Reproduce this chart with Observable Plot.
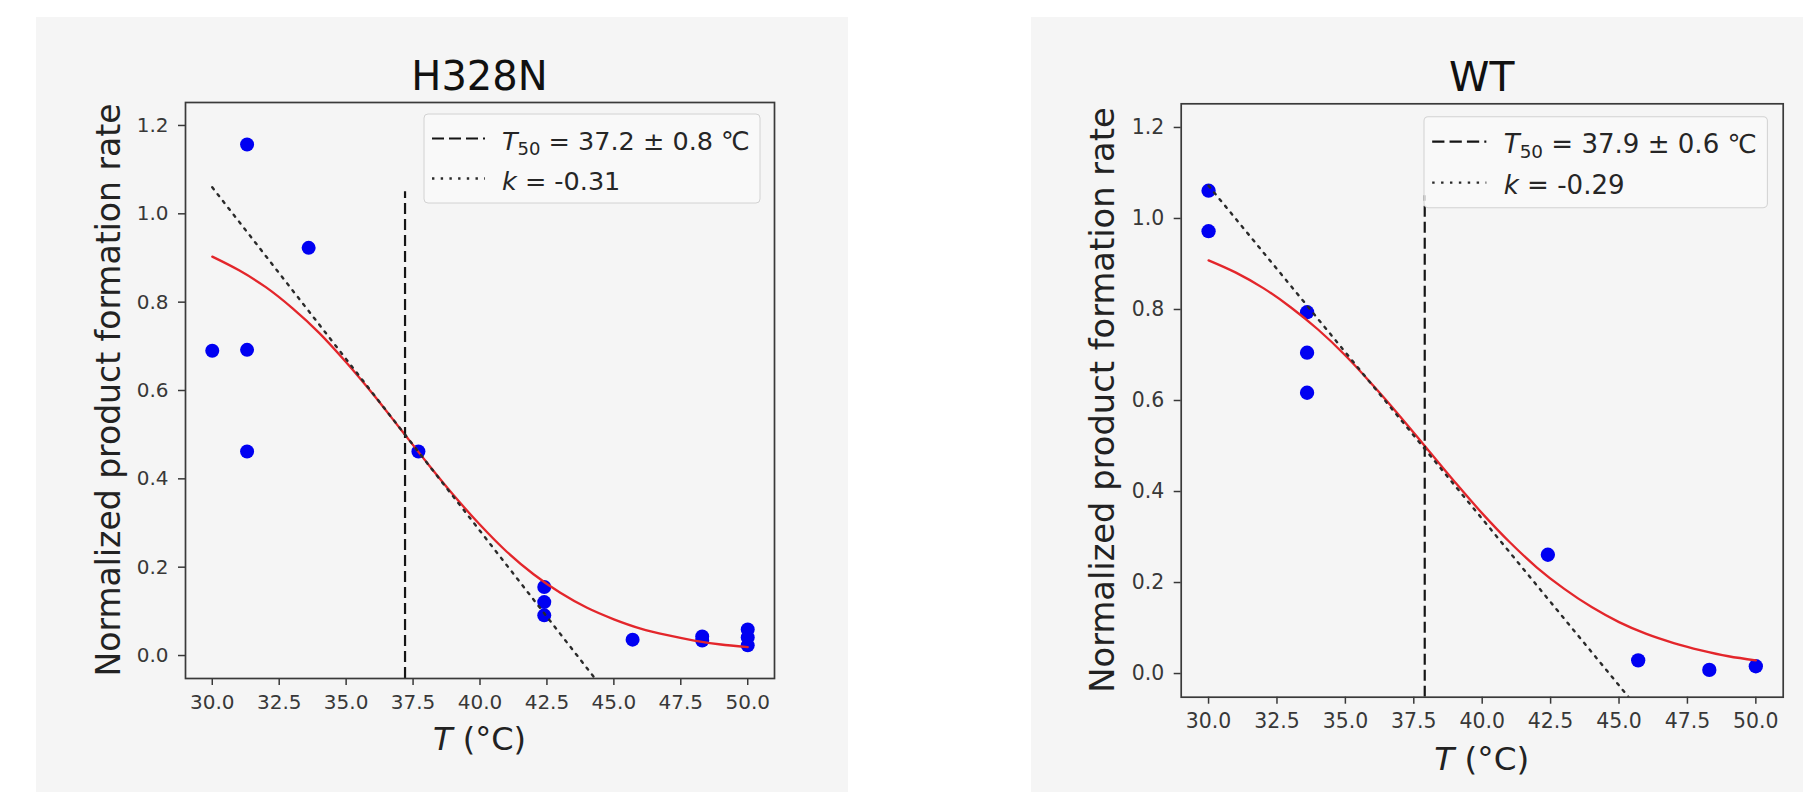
<!DOCTYPE html>
<html>
<head>
<meta charset="utf-8">
<script src="https://cdn.jsdelivr.net/npm/d3@7"></script>
<script src="https://cdn.jsdelivr.net/npm/@observablehq/plot@0.6"></script>
<style>
  html, body { margin: 0; padding: 0; background: #ffffff; width: 1803px; height: 792px; overflow: hidden; }
  .panel { position: absolute; top: 17px; }
  #left { left: 36px; }
  #right { left: 1031px; }
</style>
</head>
<body>
<div id="left" class="panel"></div>
<div id="right" class="panel"></div>
<script>
// ---------------- data ----------------
const xTicks = [30, 32.5, 35, 37.5, 40, 42.5, 45, 47.5, 50];
const yTicks = [0, 0.2, 0.4, 0.6, 0.8, 1.0, 1.2];
const xDomain = [29, 51];
const yDomain = [-0.052, 1.252];

const titles = ["H328N", "WT"];
const yLabel = "Normalized product formation rate";

// H328N measured points
const h328nTemps = [30, 31.3, 31.3, 31.3, 33.6, 37.7, 42.4, 42.4, 42.4, 45.7, 48.3, 48.3, 50, 50, 50];
const h328nRates = [0.69, 1.157, 0.692, 0.462, 0.923, 0.462, 0.155, 0.121, 0.091, 0.036, 0.043, 0.034, 0.059, 0.041, 0.023];

// WT measured points
const wtTemps = [30, 30, 33.6, 33.6, 33.6, 42.4, 45.7, 48.3, 50];
const wtRates = [1.061, 0.972, 0.794, 0.705, 0.617, 0.261, 0.029, 0.008, 0.016];

// red fitted curves, read at each degree
const fitTemps = [30, 31, 32, 33, 34, 35, 36, 37, 38, 39, 40, 41, 42, 43, 44, 45, 46, 47, 48, 49, 50];
const h328nFit = [0.903, 0.872, 0.834, 0.786, 0.730, 0.664, 0.592, 0.515, 0.438, 0.364, 0.296, 0.235, 0.184, 0.142, 0.108, 0.082, 0.061, 0.046, 0.034, 0.025, 0.019];
const wtFit    = [0.908, 0.881, 0.847, 0.805, 0.756, 0.699, 0.634, 0.565, 0.493, 0.421, 0.352, 0.289, 0.233, 0.186, 0.146, 0.113, 0.087, 0.067, 0.051, 0.038, 0.029];

// T50 (dashed vertical) and slope tangent (dotted)
const t50Values = [37.2, 37.9];
const t50Errors = [0.8, 0.6];
const t50LineTop = 1.05;
const kValues = ["-0.31", "-0.29"];
const h328nTangentTemps = [30, 44.4];
const h328nTangent = [1.06, -0.06];
const wtTangentTemps = [30, 45.6];
const wtTangent = [1.072, -0.07];

// ---------------- drawing ----------------
const BG = "#f5f5f5";
const FONT = "'DejaVu Sans', sans-serif";

function drawPanel(target, cfg) {
  const {temps, rates, fit, t50, t50Err, tanTemps, tanVals, title, kText, W, H, m, s, legendPos} = cfg;
  const pts = temps.map((t, i) => ({t, v: rates[i]}));
  const fitPts = fitTemps.map((t, i) => ({t, v: fit[i]}));
  const tanPts = tanTemps.map((t, i) => ({t, v: tanVals[i]}));

  const plot = Plot.plot({
    width: W, height: H,
    marginTop: m.top, marginRight: m.right, marginBottom: m.bottom, marginLeft: m.left,
    style: {background: BG, fontFamily: FONT, overflow: "visible"},
    x: {domain: xDomain},
    y: {domain: yDomain},
    marks: [
      Plot.dot(pts, {x: "t", y: "v", r: 7 * s, fill: "#0000f2", stroke: "none"}),
      Plot.line(fitPts, {x: "t", y: "v", stroke: "#e3262b", strokeWidth: 2.3, curve: "catmull-rom"}),
      Plot.ruleX([t50], {x: d => d, y1: () => yDomain[0], y2: () => t50LineTop, stroke: "#151515", strokeWidth: 2.2, strokeDasharray: "11,5", clip: true}),
      Plot.line(tanPts, {x: "t", y: "v", stroke: "#2a2a2a", strokeWidth: 2.4, strokeDasharray: "2.4,6.3", clip: true}),
      Plot.axisX({ticks: xTicks, tickFormat: d3.format(".1f"), tickSize: 7, tickPadding: 9.5, fontSize: 20 * s, label: null, color: "#383838", strokeWidth: 1.5}),
      Plot.axisY({ticks: yTicks, tickFormat: d3.format(".1f"), tickSize: 7, tickPadding: 10, fontSize: 20 * s, label: null, color: "#383838", strokeWidth: 1.5}),
      Plot.frame({stroke: "#3a3a3a", strokeWidth: 1.7})
    ]
  });

  const svg = d3.select(plot);
  const fx0 = m.left, fx1 = W - m.right, fy0 = m.top, fy1 = H - m.bottom;
  const cx = (fx0 + fx1) / 2, cy = (fy0 + fy1) / 2;

  // title
  svg.append("text")
    .attr("x", cx).attr("y", fy0 - 12 * s)
    .attr("text-anchor", "middle")
    .attr("font-family", FONT).attr("font-size", 40 * s).attr("fill", "#111")
    .text(title);

  // y label
  svg.append("text")
    .attr("transform", `translate(${fx0 - 65 * s},${cy}) rotate(-90)`)
    .attr("text-anchor", "middle")
    .attr("font-family", FONT).attr("font-size", 33 * s).attr("fill", "#222")
    .text(yLabel);

  // x label
  const xl = svg.append("text")
    .attr("x", cx).attr("y", fy1 + 72 * s)
    .attr("text-anchor", "middle")
    .attr("font-family", FONT).attr("font-size", 32 * s).attr("fill", "#222");
  xl.append("tspan").attr("font-style", "italic").text("T");
  xl.append("tspan").text(" (°C)");

  // legend
  const g = svg.append("g")
    .attr("transform", `translate(${legendPos.x},${legendPos.y}) scale(${s})`)
    .attr("font-family", FONT).attr("text-anchor", "start");
  g.append("rect").attr("x", 0).attr("y", 0).attr("width", 336).attr("height", 89)
    .attr("rx", 4).attr("fill", "#fafafa").attr("fill-opacity", 0.8)
    .attr("stroke", "#d2d2d2").attr("stroke-width", 1);
  g.append("line").attr("x1", 8).attr("x2", 61).attr("y1", 24.5).attr("y2", 24.5)
    .attr("stroke", "#151515").attr("stroke-width", 2.2).attr("stroke-dasharray", "12,5");
  g.append("line").attr("x1", 8).attr("x2", 61).attr("y1", 64.5).attr("y2", 64.5)
    .attr("stroke", "#2a2a2a").attr("stroke-width", 2.4).attr("stroke-dasharray", "2.4,6.3");
  const t1 = g.append("text").attr("x", 78).attr("y", 35.5).attr("text-anchor", "start")
    .attr("font-size", 25.5).attr("fill", "#262626");
  t1.append("tspan").attr("font-style", "italic").text("T");
  t1.append("tspan").attr("font-size", 18).attr("dy", 5).text("50");
  t1.append("tspan").attr("dy", -5).text(` = ${t50.toFixed(1)} ± ${t50Err.toFixed(1)} ℃`);
  const t2 = g.append("text").attr("x", 78).attr("y", 75.5).attr("text-anchor", "start")
    .attr("font-size", 25.5).attr("fill", "#262626");
  t2.append("tspan").attr("font-style", "italic").text("k");
  t2.append("tspan").text(` = ${kText}`);

  document.getElementById(target).appendChild(plot);
}

drawPanel("left", {
  temps: h328nTemps, rates: h328nRates, fit: h328nFit,
  t50: t50Values[0], t50Err: t50Errors[0], tanTemps: h328nTangentTemps, tanVals: h328nTangent,
  title: titles[0], kText: kValues[0],
  W: 812, H: 775, m: {top: 85, right: 74, bottom: 114, left: 149}, s: 1,
  legendPos: {x: 388, y: 97}
});

drawPanel("right", {
  temps: wtTemps, rates: wtRates, fit: wtFit,
  t50: t50Values[1], t50Err: t50Errors[1], tanTemps: wtTangentTemps, tanVals: wtTangent,
  title: titles[1], kText: kValues[1],
  W: 772, H: 775, m: {top: 86.3, right: 20.3, bottom: 95.3, left: 149.7}, s: 1.022,
  legendPos: {x: 393, y: 99.7}
});
</script>
</body>
</html>
